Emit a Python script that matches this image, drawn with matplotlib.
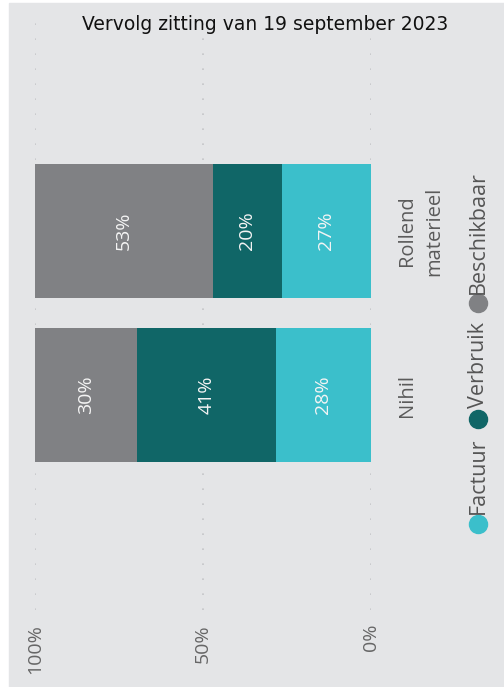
import matplotlib.pyplot as plt
from matplotlib.patches import Rectangle
from matplotlib.lines import Line2D

# ----------------------------------------------------------
# Data
# ----------------------------------------------------------

title = "Vervolg zitting van 19 september 2023"

categories = ["Nihil", "Rollend\nmaterieel"]

series_names = ["Factuur", "Verbruik", "Beschikbaar"]
series_colors = ["#3bbfcb", "#106667", "#808184"]

factuur = [28.3, 26.6]
verbruik = [41.3, 20.4]
beschikbaar = [30.4, 53.0]

tick_values = [100, 50, 0]
tick_labels = ["100%", "50%", "0%"]

# ----------------------------------------------------------
# Figure
# ----------------------------------------------------------

W, H = 504, 687
bg = "#e4e5e7"
label_font = "Open Sans"

fig = plt.figure(figsize=(W / 100, H / 100), dpi=100, facecolor="white")
fig.patches.append(Rectangle((9 / W, 0), 1 - 9 / W, 1 - 3 / H,
                             transform=fig.transFigure, color=bg, zorder=-10))

ax = fig.add_axes([35 / W, 1 - 610 / H, (371 - 35) / W, (610 - 15) / H])
ax.set_facecolor("none")
for s in ax.spines.values():
    s.set_visible(False)

ypos = list(range(len(categories)))
lefts = [0] * len(categories)
for name, vals, col in zip(series_names, [factuur, verbruik, beschikbaar], series_colors):
    ax.barh(ypos, vals, left=lefts, height=0.817, color=col, zorder=2)
    for y, l, v in zip(ypos, lefts, vals):
        ax.text(l + v / 2, y, f"{round(v)}%", rotation=90, ha="center", va="center",
                color="#f4f4f4", fontsize=14, family=label_font, zorder=3)
    lefts = [a + b for a, b in zip(lefts, vals)]

ax.set_xlim(100, 0)
ax.set_ylim(-1.31, 2.317)
ax.set_yticks([])
ax.set_xticks(tick_values)
ax.set_xticklabels(tick_labels, rotation=90, family=label_font, fontsize=14, color="#666666")
ax.tick_params(axis="x", length=0, pad=10)
ax.grid(axis="x", color="#c4c5c8", linestyle=(0, (1, 8)), linewidth=1.2, zorder=1)

# category labels (rotated, right of bars)
for y, cat in zip(ypos, categories):
    ax.text(-7.7, y, cat, rotation=90, ha="left", va="center", multialignment="center",
            fontsize=14.5, family=label_font, color="#5a5a5a", linespacing=1.5,
            clip_on=False)

fig.text(265 / W, 1 - 24 / H, title, ha="center", va="center", fontsize=13.5,
         family="DejaVu Sans", color="#111111")

# ----------------------------------------------------------
# Legend (rotated)
# ----------------------------------------------------------

fig.canvas.draw()
renderer = fig.canvas.get_renderer()
leg_x = 478
cy = 524
for name, col in zip(series_names, series_colors):
    fig.add_artist(Line2D([leg_x / W], [1 - cy / H], marker="o", markersize=13,
                          color=col, linestyle="none", transform=fig.transFigure))
    t = fig.text(leg_x / W, 1 - (cy - 10) / H, name, rotation=90, ha="center",
                 va="bottom", fontsize=15.5, family=label_font, color="#555555")
    bb = t.get_window_extent(renderer)
    cy = (H - bb.y1) - 19

fig.savefig("out.png", dpi=100, facecolor=fig.get_facecolor())
